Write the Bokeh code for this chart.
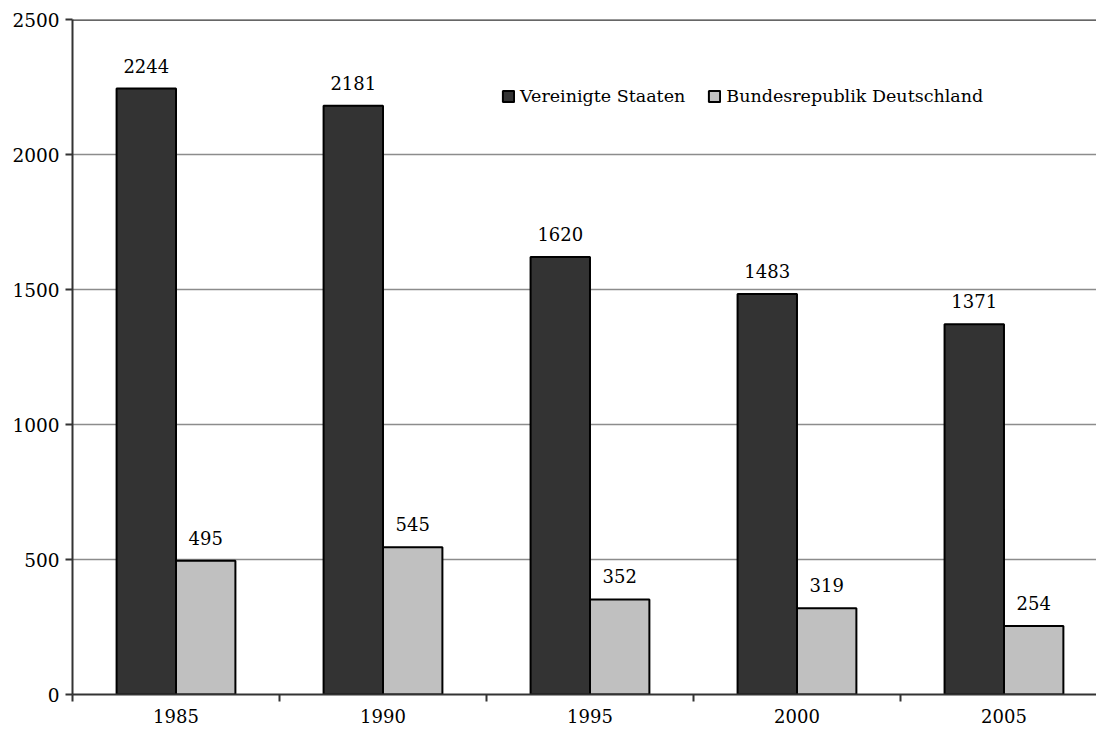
from bokeh.plotting import figure
from bokeh.models import ColumnDataSource, FixedTicker, Span, Legend, LegendItem, LabelSet
from bokeh.transform import dodge
from bokeh.core.properties import value
from bokeh.embed import file_html
from bokeh.resources import INLINE

years = ["1985", "1990", "1995", "2000", "2005"]
usa = [2244, 2181, 1620, 1483, 1371]
brd = [495, 545, 352, 319, 254]
series_names = ["Vereinigte Staaten", "Bundesrepublik Deutschland"]
y_ticks = [0, 500, 1000, 1500, 2000, 2500]

FONT = "DejaVu Serif"
idx = list(range(len(years)))
src = ColumnDataSource(dict(x=idx, usa=usa, brd=brd,
                            usa_t=[str(v) for v in usa], brd_t=[str(v) for v in brd]))

p = figure(width=1096, height=733, output_backend="svg", toolbar_location=None,
           x_range=(-0.5, 4.447), y_range=(0, 2500),
           min_border_left=72, min_border_right=0, min_border_top=19, min_border_bottom=39)
p.outline_line_color = None
p.background_fill_color = "white"

bw = 0.287
r1 = p.vbar(x=dodge("x", -bw / 2, range=p.x_range), top="usa", width=bw, source=src,
            fill_color="#333333", line_color="black", line_width=2)
r2 = p.vbar(x=dodge("x", bw / 2, range=p.x_range), top="brd", width=bw, source=src,
            fill_color="#c0c0c0", line_color="black", line_width=2)

for col, off in (("usa", -bw / 2), ("brd", bw / 2)):
    ls = LabelSet(x=dodge("x", off, range=p.x_range), y=col, text=col + "_t", source=src,
                  text_align="center", text_baseline="bottom", y_offset=16,
                  text_font=value(FONT), text_font_size=value("18px"), text_color="black")
    p.add_layout(ls)

# axes
p.yaxis.ticker = FixedTicker(ticks=y_ticks)
p.yaxis.minor_tick_line_color = None
p.yaxis.major_tick_in = 0
p.yaxis.major_tick_out = 7
p.yaxis.major_tick_line_width = 2
p.yaxis.major_tick_line_color = "#333333"
p.yaxis.axis_line_color = "#333333"
p.yaxis.axis_line_width = 2
p.yaxis.major_label_text_font = FONT
p.yaxis.major_label_text_font_size = "18.5px"
p.yaxis.major_label_text_color = "black"
p.yaxis.major_label_standoff = 6

p.xaxis.ticker = FixedTicker(ticks=idx, minor_ticks=[i - 0.5 for i in idx] + [len(idx) - 0.5])
p.xaxis.major_label_overrides = {i: y for i, y in enumerate(years)}
p.xaxis.major_tick_line_color = None
p.xaxis.minor_tick_in = 0
p.xaxis.minor_tick_out = 7
p.xaxis.minor_tick_line_width = 2
p.xaxis.minor_tick_line_color = "#333333"
p.xaxis.axis_line_color = "#333333"
p.xaxis.axis_line_width = 2
p.xaxis.major_label_text_font = FONT
p.xaxis.major_label_text_font_size = "18px"
p.xaxis.major_label_text_color = "black"
p.xaxis.major_label_standoff = 7

p.xgrid.grid_line_color = None
p.ygrid.ticker = FixedTicker(ticks=y_ticks[1:-1])
p.ygrid.grid_line_color = "#8c8c8c"
p.ygrid.grid_line_width = 1.5

p.add_layout(Span(location=2500, dimension="width", line_color="#333333", line_width=2.5))

legend = Legend(items=[LegendItem(label=series_names[0], renderers=[r1]),
                       LegendItem(label=series_names[1], renderers=[r2])],
                orientation="horizontal", location=(429, 588),
                label_text_font=FONT, label_text_font_size="17.5px", label_text_color="black",
                glyph_width=14, glyph_height=14, label_standoff=5, spacing=22,
                padding=0, margin=0, border_line_color=None, background_fill_alpha=0)
p.add_layout(legend, "center")

open("out.html", "w").write(file_html(p, INLINE))
